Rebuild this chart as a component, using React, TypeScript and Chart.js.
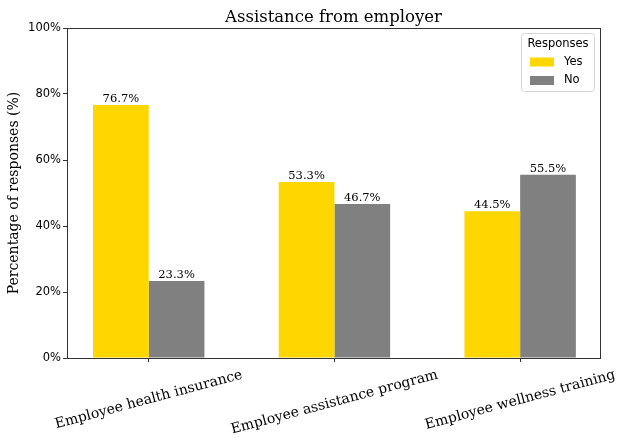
import React, { useEffect, useRef } from "react";
import { Chart, registerables } from "chart.js";

Chart.register(...registerables);

const categories = [
  "Employee health insurance",
  "Employee assistance program",
  "Employee wellness training",
];
const yesValues = [76.7, 53.3, 44.5];
const noValues = [23.3, 46.7, 55.5];
const seriesLabels = ["Yes", "No"];
const seriesColors = ["#FFD700", "#808080"];
const yTickValues = [0, 20, 40, 60, 80, 100];
const chartTitle = "Assistance from employer";
const yAxisTitle = "Percentage of responses (%)";
const legendTitle = "Responses";

const SERIF = "'DejaVu Serif', serif";
const SANS = "'DejaVu Sans', sans-serif";

const overlayPlugin = {
  id: "overlay",
  afterDraw(chart: any) {
    const { ctx, chartArea } = chart;
    const { left, right, top, bottom } = chartArea;
    ctx.save();
    // frame
    ctx.strokeStyle = "#333";
    ctx.lineWidth = 1;
    ctx.strokeRect(Math.round(left) + 0.5, Math.round(top) + 0.5, Math.round(right - left), Math.round(bottom - top));

    // title
    ctx.fillStyle = "#000";
    ctx.font = `16.5px ${SERIF}`;
    ctx.textAlign = "center";
    ctx.textBaseline = "alphabetic";
    ctx.fillText(chartTitle, (left + right) / 2, 22);

    // value labels
    ctx.font = `11.5px ${SERIF}`;
    ctx.textBaseline = "alphabetic";
    chart.data.datasets.forEach((ds: any, di: number) => {
      const meta = chart.getDatasetMeta(di);
      meta.data.forEach((el: any, i: number) => {
        const v = ds.data[i].y;
        ctx.fillText(`${v.toFixed(1)}%`, el.x, el.y - 3);
      });
    });

    // x labels rotated
    const xs = chart.scales.x;
    const ang = (15 * Math.PI) / 180;
    ctx.font = `14px ${SERIF}`;
    ctx.textAlign = "center";
    ctx.textBaseline = "middle";
    categories.forEach((c, i) => {
      const px = xs.getPixelForValue(i);
      const w = ctx.measureText(c).width;
      const h = 16;
      const H = w * Math.sin(ang) + h * Math.cos(ang);
      const cy = bottom + 9 + H / 2;
      ctx.save();
      ctx.translate(px, cy);
      ctx.rotate(-ang);
      ctx.fillText(c, 0, 0);
      ctx.restore();
    });

    // legend
    const bx = right - 79;
    const by = top + 5;
    const bw = 73;
    const bh = 58;
    ctx.fillStyle = "rgba(255,255,255,0.8)";
    ctx.strokeStyle = "#d6d6d6";
    ctx.lineWidth = 1;
    ctx.beginPath();
    (ctx as any).roundRect(bx + 0.5, by + 0.5, bw, bh, 3);
    ctx.fill();
    ctx.stroke();
    ctx.fillStyle = "#000";
    ctx.font = `11.5px ${SANS}`;
    ctx.textAlign = "center";
    ctx.textBaseline = "middle";
    ctx.fillText(legendTitle, bx + bw / 2 + 0.5, by + 11);
    chart.data.datasets.forEach((ds: any, di: number) => {
      const ry = by + 29 + di * 18.5;
      ctx.fillStyle = ds.backgroundColor;
      ctx.fillRect(bx + 9, ry - 4.5, 24, 9);
      ctx.fillStyle = "#000";
      ctx.textAlign = "left";
      ctx.fillText(ds.label, bx + 43, ry);
    });
    ctx.restore();
  },
};

export default function App() {
  const ref = useRef<HTMLCanvasElement | null>(null);
  useEffect(() => {
    if (!ref.current) return;
    const chart = new Chart(ref.current, {
      type: "bar",
      data: {
        datasets: [yesValues, noValues].map((vals, di) => ({
          label: seriesLabels[di],
          data: vals.map((v, i) => ({ x: i, y: v })),
          backgroundColor: seriesColors[di],
          borderWidth: 0,
          categoryPercentage: 0.6,
          barPercentage: 1.0,
        })),
      },
      options: {
        responsive: false,
        animation: false,
        layout: { padding: { top: 28, right: 26, left: 0, bottom: 0 } },
        plugins: {
          legend: { display: false },
          title: { display: false },
          tooltip: { enabled: false },
        },
        scales: {
          x: {
            type: "linear",
            offset: false,
            min: -0.44,
            max: 2.43,
            afterBuildTicks: (scale: any) => {
              scale.ticks = categories.map((_, i) => ({ value: i }));
            },
            afterFit: (scale: any) => {
              scale.height = 86;
            },
            ticks: { display: false },
            grid: { offset: false, drawOnChartArea: false, drawTicks: true, tickLength: 4, color: "#333" },
            border: { display: true, color: "#333" },
          },
          y: {
            min: 0,
            max: 100,
            afterBuildTicks: (scale: any) => {
              scale.ticks = yTickValues.map((v) => ({ value: v }));
            },
            afterFit: (scale: any) => {
              scale.width = 67;
            },
            ticks: {
              callback: (v: any) => `${v}%`,
              font: { family: SANS, size: 11.5 },
              color: "#000",
              padding: 2,
            },
            grid: { drawOnChartArea: false, drawTicks: true, tickLength: 4, color: "#333" },
            border: { display: true, color: "#333" },
            title: {
              display: true,
              text: yAxisTitle,
              font: { family: SERIF, size: 14 },
              color: "#000",
              padding: { top: 6, bottom: 0 },
            },
          },
        },
      },
      plugins: [overlayPlugin],
    } as any);
    return () => chart.destroy();
  }, []);
  return (
    <div style={{ position: "fixed", left: 0, top: 0, width: 626, height: 444, background: "#fff" }}>
      <canvas ref={ref} width={626} height={444} />
    </div>
  );
}
